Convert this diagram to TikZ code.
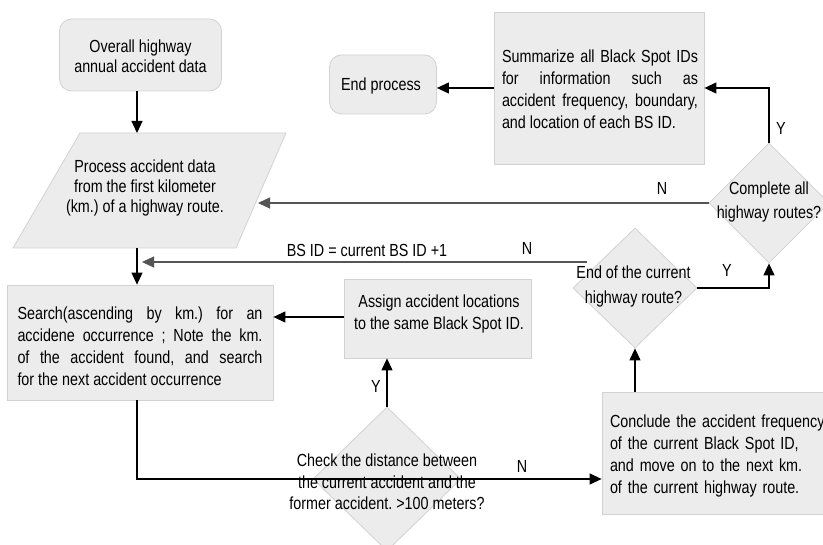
\documentclass[tikz,border=0pt]{standalone}
\usepackage{fontspec}
\setmainfont{Liberation Sans}[FakeStretch=0.82]
\usetikzlibrary{arrows.meta,shapes.geometric}
\definecolor{boxfill}{HTML}{ECECEC}
\definecolor{boxline}{HTML}{D2D2D2}
\definecolor{darkline}{HTML}{555555}
\hyphenpenalty=10000
\exhyphenpenalty=10000
\frenchspacing
\begin{document}
\begin{tikzpicture}[x=1pt,y=-1pt,
  txt/.style={font=\fontsize{17.5}{22}\selectfont, inner sep=0pt},
  box/.style={draw=boxline, fill=boxfill, line width=0.8pt, inner sep=0pt},
  rbox/.style={box, rounded corners=12pt},
  dia/.style={box, shape=diamond},
  arr/.style={line width=1.1pt, -{Triangle[length=12pt,width=11pt]}},
  ln/.style={line width=1.1pt},
  lab/.style={font=\fontsize{17.5}{22}\selectfont, inner sep=0pt}
]
\clip (0,0) rectangle (823,545);
\fill[white] (0,0) rectangle (823,545);

% start
\node[rbox, minimum width=162pt, minimum height=72pt] (start) at (140.5,55) {};
\node[txt, align=center, font=\fontsize{17.5}{20}\selectfont] (startt) at (140.5,56) {Overall highway\\annual accident data};

% parallelogram
\draw[box] (80,133) -- (286,133) -- (236,248) -- (13,248) -- cycle;
\node[minimum width=10pt, minimum height=115pt, inner sep=0pt] (proc) at (137,190.5) {};
\node[txt, align=center, font=\fontsize{17.5}{20}\selectfont] (proct) at (145,188) {Process accident data\\from the first kilometer\\(km.) of a highway route.};
\coordinate (procR) at (258,203);

% end process
\node[rbox, minimum width=107pt, minimum height=59pt] (endp) at (383,84.5) {};
\node[txt] (endpt) at (381,86) {End process};

% summarize
\node[box, minimum width=210pt, minimum height=152pt] (summ) at (599,88) {};
\node[txt, text width=196pt, align=justify] (summt) at (600,89) {Summarize all Black Spot IDs\linebreak for information such as\linebreak accident frequency, boundary,\linebreak and location of each BS ID.};

% complete diamond
\node[dia, minimum width=120pt, minimum height=120pt] (comp) at (769,203) {};
\node[txt, align=center, font=\fontsize{17.5}{24}\selectfont] (compt) at (769,202) {Complete all\\highway routes?};

% end of current route diamond
\node[dia, minimum width=124pt, minimum height=120pt] (endc) at (635,288) {};
\node[txt, align=center, font=\fontsize{17.5}{25}\selectfont] (endct) at (633.5,286) {End of the current\\highway route?};

% search
\node[box, minimum width=266pt, minimum height=115pt] (search) at (140,342.5) {};
\node[txt, text width=245pt, align=justify] (searcht) at (140,346) {Search(ascending by km.) for an\linebreak accidene occurrence ; Note the km.\linebreak of the accident found, and search\linebreak for the next accident occurrence};

% assign
\node[box, minimum width=187pt, minimum height=79pt] (assign) at (437.5,318.5) {};
\node[txt, align=center] (assignt) at (439,314) {Assign accident locations\\to the same Black Spot ID.};

% check diamond
\node[dia, minimum width=148pt, minimum height=144pt] (check) at (387,479) {};
\node[txt, align=center, font=\fontsize{17.5}{21.5}\selectfont] (checkt) at (387,482) {Check the distance between\\the current accident and the\\former accident. >100 meters?};

% conclude
\node[box, minimum width=224pt, minimum height=122pt] (concl) at (714,453) {};
\node[txt, text width=230pt, align=left] (conclt) at (725,456) {Conclude the accident frequency\\of the current Black Spot ID,\\and move on to the next km.\\of the current highway route.};

% helper coordinates
\coordinate (pn) at (137,133);
\coordinate (ps) at (137,248);
\coordinate (bsR) at (587,262);
\coordinate (bsL) at (142,262);

% connectors
\draw[arr] (start.south -| pn) -- (pn);
\draw[arr] (ps) -- (ps |- search.north);
\draw[arr, draw=darkline] (bsR) -- (bsL);
\draw[arr, draw=darkline] (comp.west) -- (procR);
\draw[arr] (assign.west |- 0,317) -- (search.east |- 0,317);
\draw[arr] (check.north) -- (check.north |- assign.south);
\draw[ln] (search.south -| pn) |- (check.west);
\draw[arr] (check.west) -- (check.west -| concl.west);
\draw[arr] (endc.south |- concl.north) -- (endc.south);
\draw[arr] (endc.east) -| (comp.south);
\draw[arr] (comp.north) |- (summ.east);
\draw[arr] (summ.west) -- (summ.west -| endp.east);

% labels
\node[lab] (lbs) at (367,250) {BS ID = current BS ID +1};
\node[lab] (lbsn) at (527,248) {N};
\node[lab] (lcn) at (662,188) {N};
\node[lab] (lcy) at (781,128) {Y};
\node[lab] (ley) at (727,270) {Y};
\node[lab] (lay) at (376,386) {Y};
\node[lab] (lchn) at (522,466) {N};
\end{tikzpicture}
\end{document}
